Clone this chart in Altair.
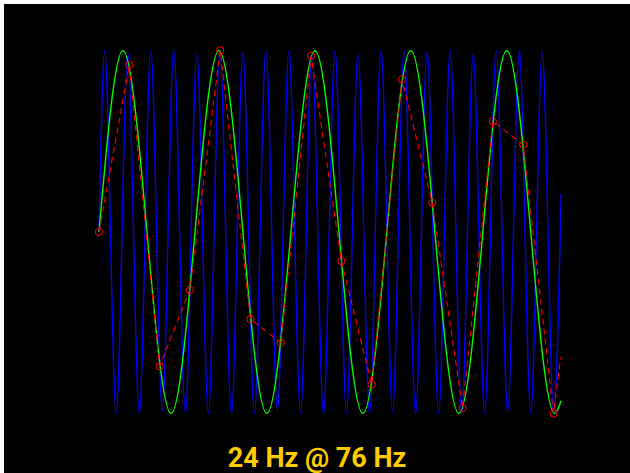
import altair as alt
import pandas as pd

# --- values (time in ms, amplitude in units) ---
# sampled points (red circles), ~76 Hz sampling
sample_t = [0.0, 13.16, 26.32, 39.47, 52.63, 65.79, 78.95, 92.11, 105.26,
            118.42, 131.58, 144.74, 157.89, 171.05, 184.21, 197.37]
sample_v = [0.0, 0.92, -0.74, -0.32, 1.0, -0.48, -0.61, 0.97, -0.16,
            -0.84, 0.84, 0.16, -0.97, 0.61, 0.48, -1.0]
# red dashed line continues past the last sample to the edge of the traces
dash_end_t = [200.5]
dash_end_v = [-0.69]

# 24 Hz trace (green): start, extrema, end
green_t = [0.0, 10.4, 31.3, 52.1, 72.9, 93.8, 114.6, 135.4, 156.3, 177.1, 197.9, 200.7]
green_v = [0.0, 1.0, -1.0, 1.0, -1.0, 1.0, -1.0, 1.0, -1.0, 1.0, -1.0, -0.93]

# 100 Hz trace (blue): start, extrema, end
blue_t = [0.0, 2.5, 7.5, 12.5, 17.5, 22.5, 27.5, 32.5, 37.5, 42.5, 47.5,
          52.5, 57.5, 62.5, 67.5, 72.5, 77.5, 82.5, 87.5, 92.5, 97.5,
          102.5, 107.5, 112.5, 117.5, 122.5, 127.5, 132.5, 137.5, 142.5, 147.5,
          152.5, 157.5, 162.5, 167.5, 172.5, 177.5, 182.5, 187.5, 192.5, 197.5,
          200.7]
blue_v = [0.0, 1.0, -1.0, 0.99, -1.0, 1.0, -0.99, 1.0, -1.0, 0.98, -1.0,
          1.0, -1.0, 0.99, -1.0, 1.0, -0.98, 1.0, -1.0, 0.99, -1.0,
          1.0, -1.0, 0.98, -1.0, 1.0, -0.99, 1.0, -1.0, 0.99, -1.0,
          1.0, -1.0, 0.98, -1.0, 1.0, -0.99, 1.0, -1.0, 0.99, -1.0,
          0.21]

title_text = "24 Hz @ 76 Hz"

# --- tables ---
blue_df = pd.DataFrame({"t": blue_t, "v": blue_v})
green_df = pd.DataFrame({"t": green_t, "v": green_v})
dash_df = pd.DataFrame({"t": sample_t + dash_end_t, "v": sample_v + dash_end_v})
pts_df = pd.DataFrame({"t": sample_t, "v": sample_v})

xs = alt.Scale(domain=[-41.25, 230.6], nice=False, zero=False)
ys = alt.Scale(domain=[-1.328, 1.256], nice=False, zero=False)
X = alt.X("t:Q", scale=xs, axis=None)
Y = alt.Y("v:Q", scale=ys, axis=None)

blue = alt.Chart(blue_df).mark_line(
    color="#0000FF", strokeWidth=1.4, interpolate="monotone"
).encode(x=X, y=Y)

green = alt.Chart(green_df).mark_line(
    color="#00FF00", strokeWidth=1.4, interpolate="monotone"
).encode(x=X, y=Y)

dash = alt.Chart(dash_df).mark_line(
    color="#FF0000", strokeWidth=1.1, strokeDash=[6, 4]
).encode(x=X, y=Y)

pts = alt.Chart(pts_df).mark_point(
    shape="circle", size=52, filled=False, color="#FF0000", strokeWidth=1, opacity=1
).encode(x=X, y=Y)

chart = alt.layer(blue, green, dash, pts).properties(
    width=626,
    height=469,
    autosize=alt.AutoSizeParams(type="none"),
    padding={"left": 4, "top": 4, "right": 0, "bottom": 0},
    background="white",
    title=alt.TitleParams(
        title_text,
        orient="bottom",
        anchor="middle",
        color="#FFCC00",
        fontSize=27,
        font="Roboto",
        fontWeight="bold",
        baseline="alphabetic",
        offset=-6,
    ),
).configure_view(fill="black", stroke=None)

chart.save("out.html", embed_options={"renderer": "svg", "actions": False})
